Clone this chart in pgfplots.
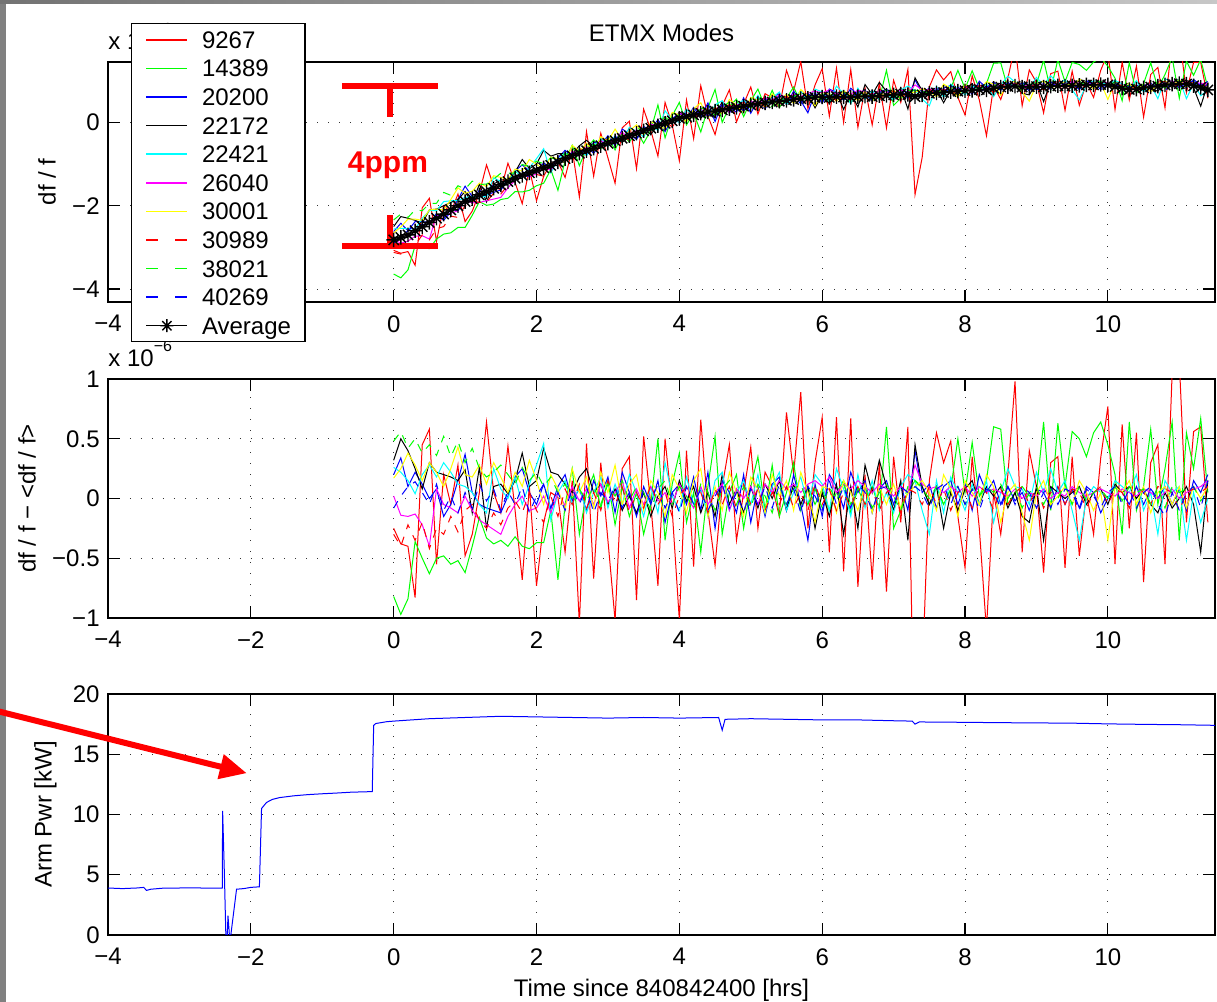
\documentclass[border=0pt]{standalone}
\usepackage{fontspec}
\setmainfont{Liberation Sans}
\usepackage{pgfplots}
\usepackage{pgfplotstable}
\pgfplotsset{compat=1.18}
\usetikzlibrary{arrows.meta}

% MATLAB colours, all in RGB
\definecolor{mred}{rgb}{1,0,0}
\definecolor{mgreen}{rgb}{0,1,0}
\definecolor{mblue}{rgb}{0,0,1}
\definecolor{mcyan}{rgb}{0,1,1}
\definecolor{mmagenta}{rgb}{1,0,1}
\definecolor{myellow}{rgb}{1,1,0}

% MATLAB style '*' marker: a plus and a cross
\pgfdeclareplotmark{mstar}{%
  \pgfpathmoveto{\pgfqpoint{-\pgfplotmarksize}{0pt}}\pgfpathlineto{\pgfqpoint{\pgfplotmarksize}{0pt}}%
  \pgfpathmoveto{\pgfqpoint{0pt}{-\pgfplotmarksize}}\pgfpathlineto{\pgfqpoint{0pt}{\pgfplotmarksize}}%
  \pgfpathmoveto{\pgfqpoint{-0.707\pgfplotmarksize}{-0.707\pgfplotmarksize}}\pgfpathlineto{\pgfqpoint{0.707\pgfplotmarksize}{0.707\pgfplotmarksize}}%
  \pgfpathmoveto{\pgfqpoint{-0.707\pgfplotmarksize}{0.707\pgfplotmarksize}}\pgfpathlineto{\pgfqpoint{0.707\pgfplotmarksize}{-0.707\pgfplotmarksize}}%
  \pgfusepathqstroke}

% avg = mean df/f (x1e-6); r1..r10 = df/f - <df/f> per mode (x1e-6)
\pgfplotstableread{
t avg r1 r2 r3 r4 r5 r6 r7 r8 r9 r10
0.0 -2.82 -0.25 -0.82 0.20 0.32 0.26 0.02 0.17 -0.30 0.48 -0.08
0.1 -2.76 -0.38 -0.97 0.34 0.50 0.22 -0.14 0.25 -0.40 0.56 0.02
0.2 -2.70 -0.40 -0.84 0.10 0.40 0.15 -0.15 0.38 -0.22 0.42 0.10
0.3 -2.60 -0.83 -0.36 0.22 0.25 0.04 -0.13 0.28 -0.35 0.50 0.14
0.4 -2.50 0.45 -0.50 0.12 0.08 0.20 -0.22 0.15 -0.20 0.38 0.05
0.5 -2.40 0.58 -0.63 0.00 0.30 0.28 -0.40 0.30 -0.42 0.45 -0.05
0.6 -2.30 -0.55 -0.50 0.08 0.22 0.18 0.08 0.22 -0.25 0.36 0.12
0.7 -2.20 0.20 -0.48 -0.15 0.20 0.30 -0.05 0.10 -0.30 0.52 -0.10
0.8 -2.10 -0.05 -0.55 -0.05 0.18 0.22 -0.08 0.25 -0.15 0.35 0.02
0.9 -2.00 0.28 -0.52 0.15 0.15 0.12 -0.12 0.43 -0.28 0.48 -0.12
1.0 -1.90 -0.48 -0.62 0.37 0.24 0.10 0.02 0.20 -0.10 0.30 0.05
1.1 -1.83 -0.30 -0.40 0.05 -0.12 0.05 -0.10 0.18 -0.05 0.42 -0.08
1.2 -1.74 0.05 -0.16 -0.05 0.26 -0.05 -0.18 0.28 -0.18 0.25 0.12
1.3 -1.66 0.64 -0.33 -0.08 -0.25 -0.12 -0.22 0.12 -0.25 0.18 -0.02
1.4 -1.58 0.05 -0.38 -0.10 0.10 0.25 -0.26 0.30 -0.12 0.22 0.08
1.5 -1.50 -0.12 -0.35 -0.12 0.12 0.08 -0.30 0.18 -0.22 0.28 -0.10
1.6 -1.42 0.44 -0.40 0.02 0.04 0.00 -0.15 0.05 -0.08 0.20 0.06
1.7 -1.34 -0.10 -0.32 0.18 0.15 0.18 -0.05 0.22 -0.02 0.12 -0.05
1.8 -1.27 -0.68 -0.40 0.25 0.38 -0.05 0.02 0.10 -0.12 0.26 0.10
1.9 -1.21 0.10 -0.42 0.05 0.10 0.12 -0.10 0.32 0.05 0.15 -0.12
2.0 -1.15 -0.73 -0.37 -0.05 0.15 0.28 -0.08 0.15 -0.10 0.22 0.02
2.1 -1.09 -0.20 -0.37 0.12 0.42 0.46 0.02 -0.05 -0.20 0.10 0.12
2.2 -1.03 0.05 -0.10 -0.08 0.22 -0.18 -0.12 0.20 0.02 0.18 -0.08
2.3 -0.95 0.01 -0.68 0.10 0.20 0.05 0.05 0.08 -0.15 0.05 0.05
2.4 -0.87 -0.45 -0.05 0.20 0.12 0.15 -0.06 -0.10 0.08 0.12 -0.10
2.5 -0.80 0.15 0.25 -0.02 0.05 -0.05 0.10 0.25 -0.05 0.00 0.08
2.6 -0.74 -1.05 -0.30 0.08 0.18 0.10 -0.02 0.05 0.12 0.08 -0.05
2.7 -0.68 0.46 0.05 -0.10 0.25 -0.12 0.08 0.18 -0.08 -0.02 0.10
2.8 -0.62 -0.67 0.20 0.15 0.05 0.05 -0.05 -0.08 0.05 0.10 -0.12
2.9 -0.56 0.30 -0.08 0.02 0.12 0.18 0.12 0.22 -0.10 -0.05 0.05
3.0 -0.50 -0.35 0.15 0.18 -0.05 -0.08 -0.03 0.05 0.15 0.12 -0.02
3.1 -0.44 -1.02 -0.22 -0.12 0.08 0.12 0.05 0.28 -0.05 0.02 0.10
3.2 -0.38 0.25 0.10 0.22 -0.10 -0.05 0.15 -0.05 0.10 0.15 -0.08
3.3 -0.32 0.35 -0.15 0.05 0.02 0.20 -0.08 0.12 -0.12 -0.02 0.05
3.4 -0.26 -0.85 0.05 -0.15 -0.12 0.05 0.08 0.20 0.05 0.10 -0.15
3.5 -0.20 0.52 -0.30 0.10 0.05 -0.15 -0.05 -0.10 -0.08 0.05 0.08
3.6 -0.14 -0.05 -0.05 -0.05 -0.15 0.10 0.10 0.15 0.12 -0.10 -0.02
3.7 -0.08 -0.73 0.50 0.15 0.02 -0.12 -0.02 0.05 -0.05 0.08 0.12
3.8 -0.02 0.50 -0.35 -0.20 0.10 0.30 0.05 -0.15 0.05 0.15 -0.08
3.9 0.04 -0.10 0.12 0.05 -0.08 0.02 -0.05 0.20 -0.15 -0.05 0.05
4.0 0.10 -1.02 0.38 0.12 0.15 -0.10 0.12 0.08 0.02 0.10 -0.12
4.1 0.14 0.40 -0.20 -0.05 -0.02 0.18 0.02 -0.12 0.10 0.02 0.10
4.2 0.18 -0.57 0.05 0.18 0.10 -0.05 -0.08 0.15 -0.08 -0.08 -0.05
4.3 0.22 0.66 -0.45 -0.10 -0.12 0.08 0.10 0.25 0.05 0.12 0.08
4.4 0.25 -0.10 0.10 0.22 0.05 -0.15 -0.05 -0.15 -0.12 0.05 -0.10
4.5 0.27 -0.56 0.52 -0.25 -0.15 0.15 0.05 0.10 0.08 -0.10 0.02
4.6 0.30 0.10 -0.30 0.15 0.20 0.22 0.12 -0.10 -0.05 0.08 0.12
4.7 0.33 0.45 0.05 0.05 -0.05 -0.10 -0.10 0.22 0.10 0.15 -0.08
4.8 0.36 -0.35 0.20 -0.12 0.08 0.05 0.08 0.05 -0.08 -0.05 0.05
4.9 0.39 0.05 -0.25 0.20 -0.12 0.15 0.00 -0.15 0.12 0.10 -0.12
5.0 0.42 0.43 0.10 -0.20 0.10 -0.05 0.10 0.18 -0.05 -0.08 0.08
5.1 0.45 -0.25 0.35 0.10 -0.08 0.20 -0.05 0.08 0.08 0.12 -0.05
5.2 0.47 0.22 -0.10 -0.15 0.12 -0.12 0.12 -0.12 -0.10 0.02 0.10
5.3 0.49 0.10 0.28 0.12 0.00 0.10 0.05 0.20 0.05 -0.12 -0.08
5.4 0.51 -0.15 -0.15 0.18 0.15 0.22 0.15 0.02 -0.05 0.10 0.12
5.5 0.53 0.72 0.05 -0.10 -0.10 -0.10 0.08 0.15 0.10 -0.05 -0.05
5.6 0.55 0.20 0.30 0.20 0.12 0.05 0.12 -0.10 -0.08 0.08 0.08
5.7 0.57 0.89 -0.10 -0.05 -0.05 0.18 0.05 0.22 0.05 0.12 -0.12
5.8 0.58 -0.25 0.10 -0.35 0.10 -0.05 0.12 0.05 -0.10 -0.05 0.10
5.9 0.60 0.30 -0.05 0.12 -0.25 0.20 0.15 -0.20 0.12 0.08 0.02
6.0 0.61 0.68 0.08 -0.15 0.05 0.12 0.10 0.10 -0.05 -0.08 -0.10
6.1 0.60 -0.45 -0.10 0.20 -0.15 -0.10 0.18 0.08 0.08 0.10 0.15
6.2 0.62 0.68 0.05 0.10 0.12 0.25 0.05 -0.12 -0.10 -0.02 -0.05
6.3 0.61 -0.61 0.15 -0.08 -0.30 0.08 0.12 0.15 0.05 0.12 0.10
6.4 0.60 0.67 -0.12 0.22 0.10 -0.15 0.08 0.05 -0.08 -0.05 -0.08
6.5 0.62 -0.74 0.08 0.05 -0.25 0.20 0.15 -0.10 0.10 0.08 0.12
6.6 0.63 0.20 -0.05 0.15 0.28 -0.08 0.10 0.12 -0.05 0.10 0.05
6.7 0.62 -0.68 0.10 -0.12 0.05 0.15 0.05 -0.12 0.08 -0.08 -0.10
6.8 0.64 0.30 -0.08 0.08 0.32 -0.10 0.12 0.10 -0.10 0.05 0.08
6.9 0.65 -0.78 0.60 0.15 0.10 0.05 0.08 -0.05 0.05 0.12 0.10
7.0 0.66 0.35 -0.25 -0.05 -0.10 -0.12 0.02 0.12 0.10 0.02 -0.05
7.1 0.68 -0.20 -0.10 0.12 0.15 0.10 0.10 -0.08 -0.12 -0.10 0.10
7.2 0.67 0.60 0.05 -0.10 -0.35 0.20 0.05 0.05 0.08 0.10 0.05
7.3 0.62 -2.35 0.15 0.40 0.45 0.15 0.28 0.10 0.05 0.15 0.10
7.4 0.66 -1.50 0.10 0.05 0.10 -0.10 0.12 0.15 -0.05 0.08 0.05
7.5 0.70 0.15 -0.05 0.12 -0.05 -0.30 0.08 0.05 0.10 0.00 -0.08
7.6 0.71 0.55 0.10 -0.08 0.10 0.15 0.10 -0.10 -0.05 0.10 0.08
7.7 0.72 0.30 -0.05 0.10 -0.25 -0.12 0.05 0.20 0.08 -0.05 0.12
7.8 0.74 0.48 0.08 0.15 0.05 0.18 0.10 0.08 -0.10 0.08 -0.05
7.9 0.75 -0.15 0.50 -0.05 -0.10 0.05 0.05 -0.15 0.05 0.10 0.10
8.0 0.76 -0.58 0.05 0.12 0.08 -0.10 0.10 0.15 0.10 -0.05 -0.05
8.1 0.77 0.35 0.47 -0.10 0.15 0.12 0.02 0.05 -0.08 0.08 0.08
8.2 0.79 -0.25 0.02 0.20 -0.05 -0.05 0.10 -0.05 0.10 0.02 -0.10
8.3 0.78 -1.10 0.15 0.05 0.10 0.15 0.05 0.20 0.05 0.10 0.08
8.4 0.82 0.05 0.60 0.15 0.02 -0.20 0.08 0.10 -0.10 0.05 0.05
8.5 0.85 -0.30 0.58 -0.05 0.10 0.05 0.05 -0.20 0.08 0.12 -0.08
8.6 0.86 0.20 -0.05 0.10 -0.08 0.25 0.02 0.05 -0.05 0.00 0.10
8.7 0.87 0.98 0.05 -0.02 0.05 0.10 0.08 0.12 0.05 0.10 -0.05
8.8 0.85 -0.45 0.10 0.05 -0.15 0.08 0.00 -0.12 0.10 -0.08 0.10
8.9 0.86 0.40 0.02 -0.10 -0.20 -0.05 0.05 -0.35 -0.05 0.05 0.05
9.0 0.86 0.10 0.05 0.08 0.10 0.22 0.02 0.05 0.10 0.10 -0.08
9.1 0.85 -0.62 0.64 0.05 -0.35 0.05 0.08 0.15 -0.08 -0.05 0.05
9.2 0.87 0.30 -0.10 -0.08 0.10 0.25 0.00 -0.05 0.05 0.08 0.10
9.3 0.88 0.35 0.63 0.10 0.05 0.05 0.05 0.02 0.10 0.00 -0.05
9.4 0.87 -0.58 0.10 -0.05 0.00 0.15 0.02 0.10 -0.05 0.12 0.08
9.5 0.88 0.35 0.56 0.08 0.05 -0.10 0.10 -0.05 0.08 -0.05 0.05
9.6 0.89 -0.48 0.50 -0.08 0.10 -0.35 0.05 0.15 0.05 0.10 -0.10
9.7 0.90 0.05 0.35 0.10 -0.05 0.00 0.02 0.05 -0.08 -0.02 0.08
9.8 0.90 -0.30 0.55 0.05 0.05 0.10 0.05 -0.10 0.05 0.05 0.02
9.9 0.91 0.34 0.64 -0.12 0.08 0.05 0.08 0.05 0.10 0.08 -0.08
10.0 0.90 0.77 0.45 0.00 -0.05 0.00 0.05 -0.35 -0.05 0.00 0.05
10.1 0.86 -0.55 0.20 0.10 0.12 0.15 0.02 0.10 0.08 0.10 0.10
10.2 0.82 0.62 -0.30 0.05 0.05 0.10 0.08 0.05 0.05 -0.02 -0.05
10.3 0.79 -0.25 0.64 -0.05 0.10 0.05 0.05 0.15 -0.08 0.10 0.08
10.4 0.80 0.55 -0.10 0.10 0.00 0.20 0.02 -0.05 0.10 0.05 -0.08
10.5 0.83 -0.70 0.10 -0.05 0.08 -0.10 0.08 0.10 0.05 0.08 0.05
10.6 0.85 0.30 0.58 0.08 -0.05 0.05 0.05 -0.12 -0.05 -0.05 0.10
10.7 0.87 0.45 -0.05 0.00 -0.12 -0.30 0.00 0.05 0.10 0.10 -0.05
10.8 0.90 -0.55 0.25 0.10 0.05 0.15 0.05 0.10 0.08 -0.08 -0.15
10.9 0.92 1.05 0.64 -0.05 -0.08 0.05 0.08 -0.05 0.05 0.10 0.05
11.0 0.93 1.15 -0.35 0.08 0.00 0.10 0.00 0.10 -0.10 0.05 -0.10
11.1 0.92 -0.20 0.55 -0.10 0.10 -0.35 0.05 -0.08 0.05 0.08 0.05
11.2 0.88 0.56 0.25 0.15 -0.05 0.05 0.08 0.10 0.08 0.10 0.10
11.3 0.84 0.60 0.67 0.05 -0.45 -0.20 0.10 0.00 0.05 -0.02 -0.08
11.4 0.78 -0.20 0.05 0.20 0.15 0.00 0.15 0.10 0.10 0.05 0.15
}\modes

% arm power [kW]
\pgfplotstableread{
t p
-4.00 3.90
-3.80 3.85
-3.60 3.90
-3.50 3.95
-3.46 3.70
-3.40 3.80
-3.20 3.90
-3.00 3.90
-2.80 3.92
-2.60 3.88
-2.40 3.90
-2.395 10.30
-2.37 5.00
-2.35 0.00
-2.33 0.00
-2.32 1.60
-2.30 0.00
-2.28 0.00
-2.20 3.80
-2.10 3.85
-2.00 3.95
-1.88 4.00
-1.85 10.50
-1.78 11.00
-1.70 11.25
-1.60 11.40
-1.40 11.55
-1.20 11.65
-1.00 11.72
-0.80 11.78
-0.60 11.85
-0.30 11.90
-0.28 17.40
-0.25 17.55
-0.10 17.70
0.00 17.75
0.50 17.95
1.00 18.05
1.50 18.15
2.00 18.10
2.50 18.05
3.00 18.00
3.50 18.05
4.00 18.00
4.55 18.05
4.60 17.00
4.64 17.90
5.00 17.95
5.50 17.90
6.00 17.85
6.50 17.85
7.00 17.78
7.26 17.75
7.30 17.50
7.36 17.68
8.00 17.65
8.50 17.62
9.00 17.60
9.50 17.58
10.00 17.52
10.50 17.48
11.00 17.45
11.50 17.40
}\armpwr

\pgfplotsset{
  mlab/.style={
    scale only axis, width=553.5pt, xmin=-4, xmax=11.5,
    xtick={-4,-2,...,10}, xticklabels={−4,−2,0,2,4,6,8,10},
    tick align=inside, xtick pos=both, ytick pos=both,
    major tick length=6pt,
    grid=major,
    major grid style={black!80, line width=0.5pt, dash pattern=on 0.5pt off 5pt},
    axis line style={line width=0.6pt},
    every tick/.append style={black, line width=0.6pt},
    xticklabel style={inner sep=0pt, yshift=-6.5pt},
    yticklabel style={inner sep=0pt, xshift=-4pt},
    ylabel style={inner sep=0pt}, ylabel shift=8pt,
    every axis plot/.append style={line width=0.5pt},
  },
  dash/.style={dash pattern=on 4pt off 4pt},
  % legend sample: a line of the given colour (and pattern)
  leg/.style={legend image code/.code={%
      \draw[#1, line width=0.8pt] (0pt,0pt) -- (20.5pt,0pt);
      \path (27.5pt,0pt);}},
}

\begin{document}
\begin{tikzpicture}[font=\fontsize{12}{14}\selectfont]
\useasboundingbox (0,0) rectangle (608.5pt,501pt);
\fill[white] (0,0) rectangle (608.5pt,501pt);
\fill[black!50] (0,0) rectangle (3pt,501pt);
\shade[left color=black!55, right color=black!22] (0,499pt) rectangle (608.5pt,501pt);

\node[anchor=base] at (330.75pt,480.2pt) {ETMX Modes};
\node[anchor=base west, inner sep=0pt] at (54pt,476pt) {x 10\raisebox{7.5pt}{\fontsize{8}{8}\selectfont −6}};
\node[anchor=base west, inner sep=0pt] at (54pt,317.5pt) {x 10\raisebox{7.5pt}{\fontsize{8}{8}\selectfont −6}};

% df/f
\begin{axis}[mlab, at={(54pt,350pt)}, anchor=south west, height=120pt,
  ymin=-4.31, ymax=1.45, ytick={-4,-2,0}, yticklabels={−4,−2,0},
  ylabel={df / f},
  legend cell align=left,
  legend style={at={(axis description cs:0.0208,1.1625)}, anchor=north west,
    draw=black, line width=0.6pt, fill=white, inner xsep=7pt, inner ysep=3.8pt,
    row sep=5.8pt, nodes={inner sep=0pt, text height=8.5pt, text depth=0pt}},
]
\addplot[mred, leg=mred] table[x=t, y expr=\thisrow{avg}+\thisrow{r1}] {\modes};
\addlegendentry{9267}
\addplot[mgreen, leg=mgreen] table[x=t, y expr=\thisrow{avg}+\thisrow{r2}] {\modes};
\addlegendentry{14389}
\addplot[mblue, leg=mblue] table[x=t, y expr=\thisrow{avg}+\thisrow{r3}] {\modes};
\addlegendentry{20200}
\addplot[black, leg=black] table[x=t, y expr=\thisrow{avg}+\thisrow{r4}] {\modes};
\addlegendentry{22172}
\addplot[mcyan, leg=mcyan] table[x=t, y expr=\thisrow{avg}+\thisrow{r5}] {\modes};
\addlegendentry{22421}
\addplot[mmagenta, leg=mmagenta] table[x=t, y expr=\thisrow{avg}+\thisrow{r6}] {\modes};
\addlegendentry{26040}
\addplot[myellow, leg=myellow] table[x=t, y expr=\thisrow{avg}+\thisrow{r7}] {\modes};
\addlegendentry{30001}
\addplot[mred, dash, leg={mred, dash pattern=on 6pt off 8.5pt}] table[x=t, y expr=\thisrow{avg}+\thisrow{r8}] {\modes};
\addlegendentry{30989}
\addplot[mgreen, dash, leg={mgreen, dash pattern=on 6pt off 8.5pt}] table[x=t, y expr=\thisrow{avg}+\thisrow{r9}] {\modes};
\addlegendentry{38021}
\addplot[mblue, dash, leg={mblue, dash pattern=on 6pt off 8.5pt}] table[x=t, y expr=\thisrow{avg}+\thisrow{r10}] {\modes};
\addlegendentry{40269}
\addplot[black, line width=0.6pt, mark=mstar, mark size=3.6pt, mark options={line width=0.7pt},
  legend image code/.code={%
    \draw[black, line width=0.6pt] (0pt,0pt) -- (20.5pt,0pt);
    \draw[black, line width=0.6pt] plot[mark=mstar, mark size=3.25pt] coordinates {(10.25pt,0pt)};
    \path (27.5pt,0pt);}] table[x=t, y=avg] {\modes};
\addlegendentry{Average}
\draw[mred, line width=3pt] (axis cs:-0.725,0.87) -- (axis cs:0.62,0.87);
\draw[mred, line width=3pt] (axis cs:-0.053,0.87) -- (axis cs:-0.053,0.13);
\draw[mred, line width=3pt] (axis cs:-0.725,-2.97) -- (axis cs:0.62,-2.97);
\draw[mred, line width=3pt] (axis cs:-0.053,-2.97) -- (axis cs:-0.053,-2.22);
\node[mred, font=\fontsize{15}{15}\selectfont\bfseries] at (axis cs:-0.08,-1.02) {4ppm};
\end{axis}

% residuals
\begin{axis}[mlab, at={(54pt,192pt)}, anchor=south west, height=119.5pt,
  ymin=-1, ymax=1, ytick={-1,-0.5,0,0.5,1}, yticklabels={−1,−0.5,0,0.5,1},
  ylabel={df / f − <df / f>},
]
\addplot[mred] table[x=t, y=r1] {\modes};
\addplot[mgreen] table[x=t, y=r2] {\modes};
\addplot[mblue] table[x=t, y=r3] {\modes};
\addplot[black] table[x=t, y=r4] {\modes};
\addplot[mcyan] table[x=t, y=r5] {\modes};
\addplot[mmagenta] table[x=t, y=r6] {\modes};
\addplot[myellow] table[x=t, y=r7] {\modes};
\addplot[mred, dash] table[x=t, y=r8] {\modes};
\addplot[mgreen, dash] table[x=t, y=r9] {\modes};
\addplot[mblue, dash] table[x=t, y=r10] {\modes};
\end{axis}

% arm power
\begin{axis}[mlab, at={(54pt,33.5pt)}, anchor=south west, height=120.5pt,
  ymin=0, ymax=20, ytick={0,5,...,20}, yticklabels={0,5,10,15,20},
  ylabel={Arm Pwr [kW]},
  xlabel={Time since 840842400 [hrs]}, xlabel style={inner sep=0pt}, xlabel shift=6.5pt,
]
\addplot[mblue] table[x=t, y=p] {\armpwr};
\end{axis}

\draw[mred, line width=3pt, -{Triangle[length=13.5pt, width=12pt]}] (-10pt,147.6pt) -- (123.4pt,114.4pt);
\end{tikzpicture}
\end{document}
